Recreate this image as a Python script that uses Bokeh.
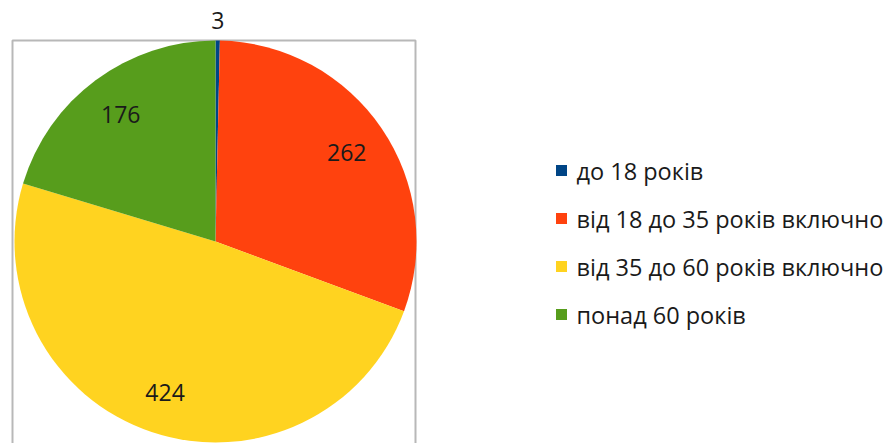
import math
from bokeh.plotting import figure
from bokeh.models import Range1d, ColumnDataSource
from bokeh.core.properties import value
from bokeh.embed import file_html
from bokeh.resources import INLINE

categories = ["до 18 років", "від 18 до 35 років включно", "від 35 до 60 років включно", "понад 60 років"]
counts = [3, 262, 424, 176]
colors = ["#004586", "#ff420e", "#ffd320", "#579d1c"]

W, H = 890, 443
FONT = "Open Sans"

p = figure(width=W, height=H, output_backend="svg", toolbar_location=None,
           x_range=Range1d(0, W), y_range=Range1d(0, H), min_border=0)
p.axis.visible = False
p.grid.visible = False
p.outline_line_color = None
p.background_fill_color = "white"
p.border_fill_color = "white"

# plot-area frame
p.quad(left=[12], right=[415], top=[H - 40], bottom=[-10], fill_color=None,
       line_color="#b8b8b8", line_width=2)

cx, cy, r = 215, H - 241, 201
total = sum(counts)
starts, ends, lx, ly = [], [], [], []
cum = 0.0
for v in counts:
    f0 = cum / total
    cum += v
    f1 = cum / total
    a0 = math.pi / 2 - 2 * math.pi * f0
    a1 = math.pi / 2 - 2 * math.pi * f1
    starts.append(a0)
    ends.append(a1)
    mid = (a0 + a1) / 2
    frac = v / total
    lr = r + 20 if frac < 0.02 else 0.79 * r
    lx.append(cx + lr * math.cos(mid))
    ly.append(cy + lr * math.sin(mid))

src = ColumnDataSource(dict(start=starts, end=ends, color=colors,
                            lx=lx, ly=ly, label=[str(c) for c in counts]))
p.wedge(x=cx, y=cy, radius=r, radius_units="screen", start_angle="start", end_angle="end",
        direction="clock", fill_color="color", line_color=None, source=src)
p.text(x="lx", y="ly", text="label", source=src, text_align="center", text_baseline="middle",
       text_font=value(FONT), text_font_size="23px", text_color="#1a1a1a")

# legend
leg_x, leg_y0, leg_dy = 561, H - 170, -48
ys = [leg_y0 + i * leg_dy for i in range(len(categories))]
p.rect(x=[leg_x] * len(categories), y=ys, width=11, height=11, width_units="screen",
       height_units="screen", fill_color=colors, line_color=None)
p.text(x=[leg_x + 15] * len(categories), y=ys, text=categories, text_align="left",
       text_baseline="middle", text_font=value(FONT), text_font_size="23.5px", text_color="#1a1a1a")

open("out.html", "w").write(file_html(p, INLINE))
